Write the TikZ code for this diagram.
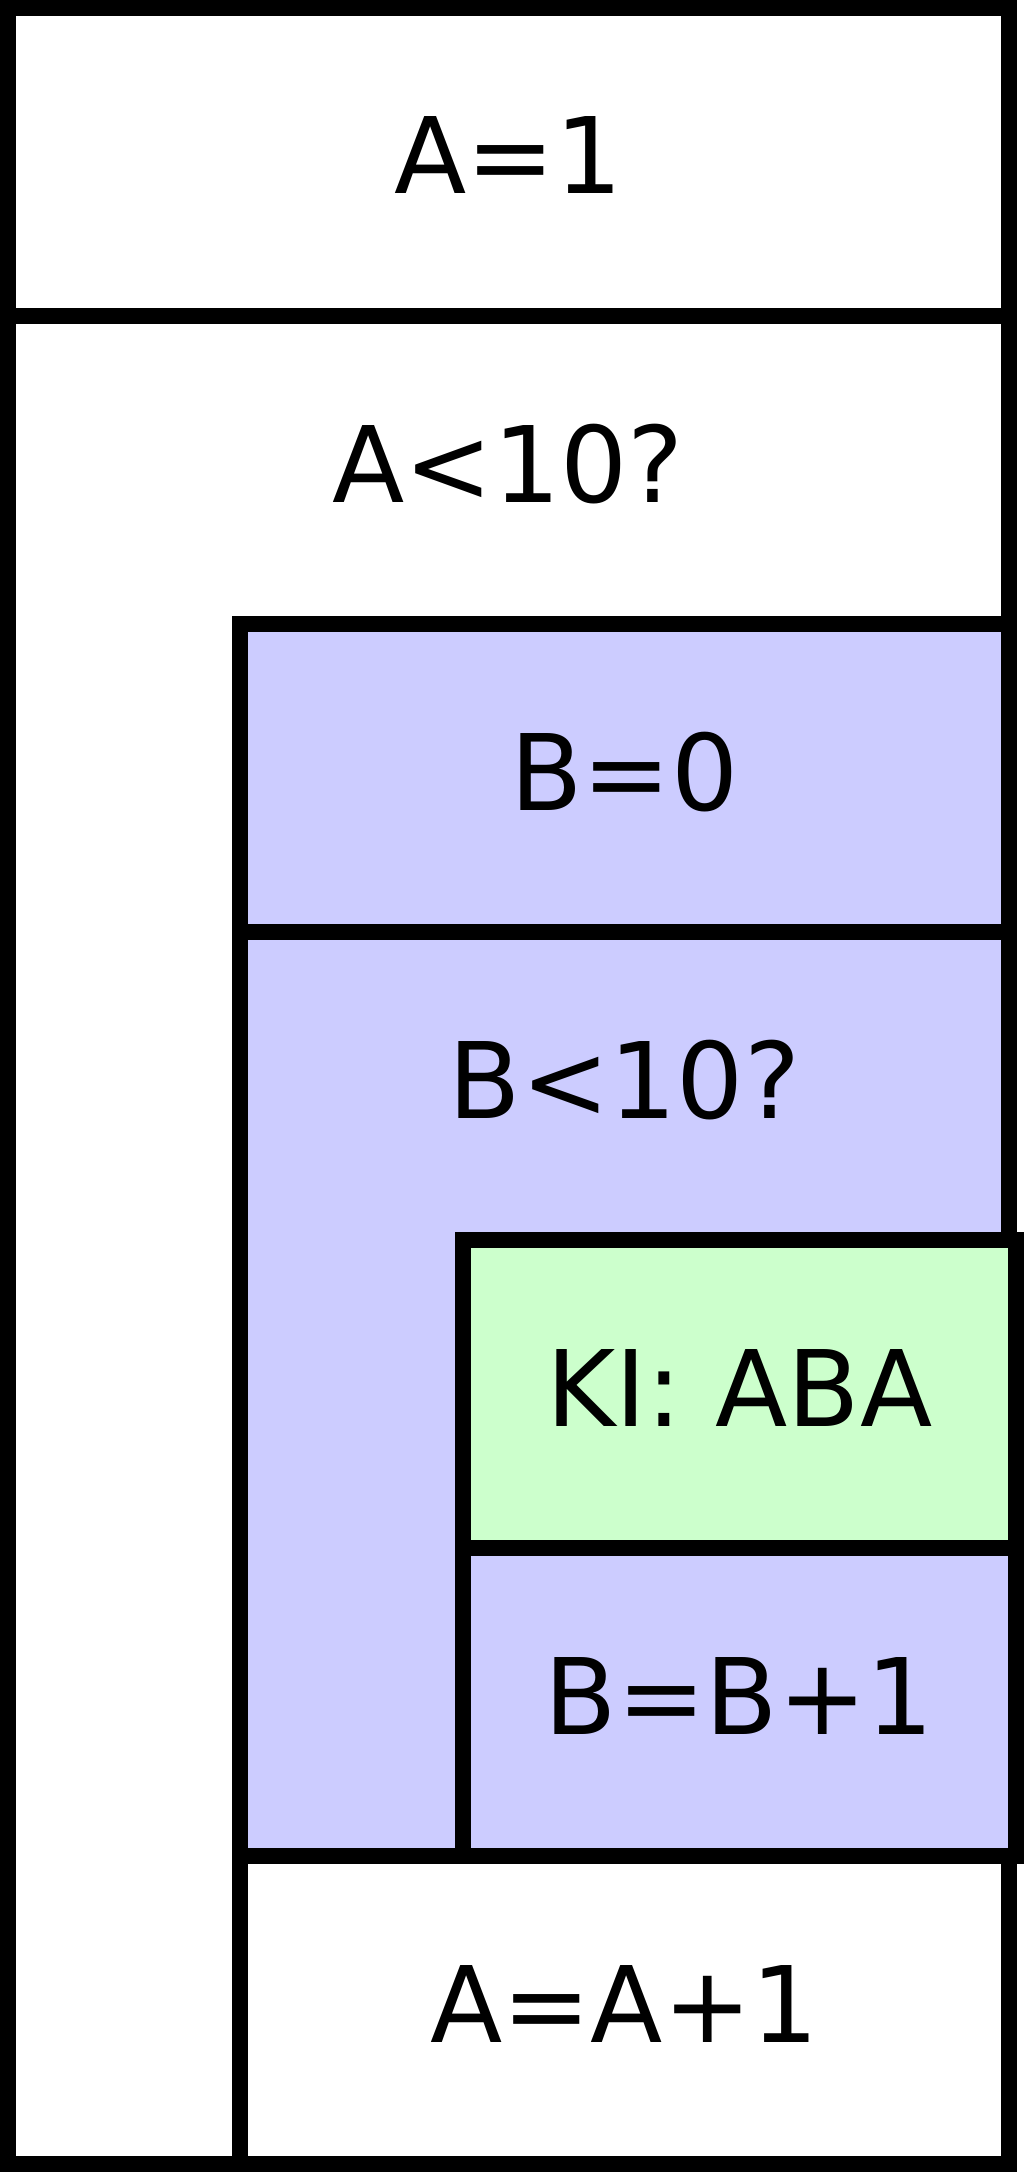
\documentclass[tikz,border=0pt]{standalone}
\usepackage{fontspec}
\setmainfont{DejaVu Sans}
\definecolor{loopblue}{HTML}{CCCCFF}
\definecolor{callgreen}{HTML}{CCFFCC}
\newcommand*{\nsfont}{\fontsize{52.8pt}{60pt}\selectfont}

\begin{document}
\begin{tikzpicture}
		\tikzset{
			nsbox/.style={rectangle, draw, line width=8pt, inner sep=0pt, outer sep=0pt,
				anchor=north west, minimum height=154pt,
				text height=38.5pt, text depth=6.5pt, font=\nsfont},
			nsloop/.style={rectangle, draw, line width=8pt, inner sep=0pt, outer sep=0pt,
				anchor=north west},
			nstest/.style={anchor=base, inner sep=0pt, font=\nsfont}
		}
		\useasboundingbox (0,0) rectangle (512pt,-1086pt);
		% outer sequence
		\node[nsbox, minimum width=500.75pt] (a1) at (3.75pt,-4pt) {A=1};
		\node[nsloop, minimum width=500.75pt, minimum height=924pt] (aloop) at (3.75pt,-158pt) {};
		\node[nstest] (atest) at ([yshift=-93pt]aloop.north) {A<10?};
		% body of A-loop
		\node[nsbox, fill=loopblue, minimum width=384.5pt] (b0) at (120pt,-312pt) {B=0};
		\node[nsloop, fill=loopblue, minimum width=384.5pt, minimum height=462pt] (bloop) at (120pt,-466pt) {};
		\node[nstest] (btest) at ([yshift=-93pt]bloop.north) {B<10?};
		% body of B-loop
		\node[nsbox, fill=callgreen, minimum width=276.5pt] (ki) at (231.5pt,-620pt) {KI: ABA};
		\node[nsbox, fill=loopblue, minimum width=276.5pt] (binc) at (231.5pt,-774pt) {B=B+1};
		\node[nsbox, fill=white, minimum width=384.5pt] (ainc) at (120pt,-928pt) {A=A+1};
\end{tikzpicture}
\end{document}
